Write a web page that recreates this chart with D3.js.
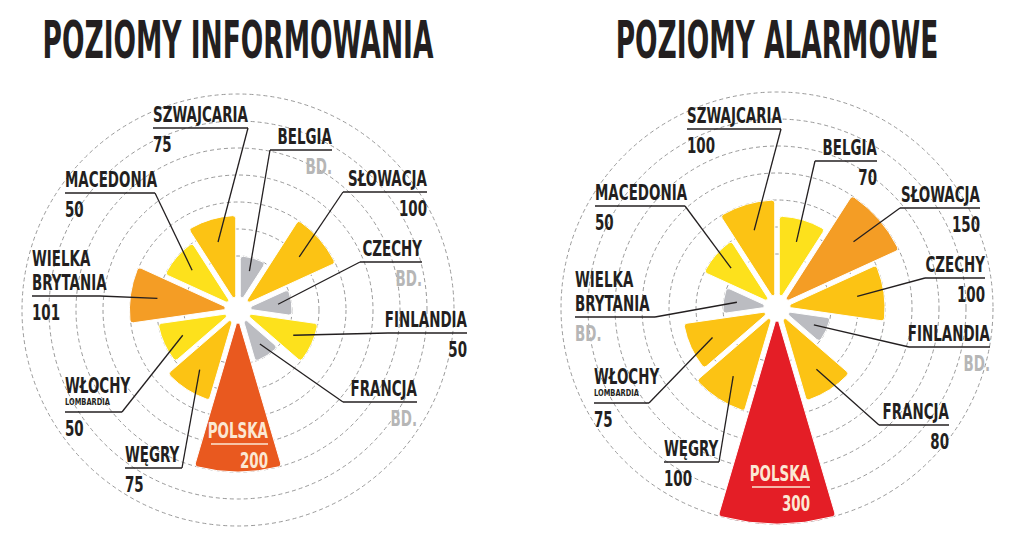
<!DOCTYPE html>
<html><head><meta charset="utf-8">
<script src="https://cdn.jsdelivr.net/npm/d3@7"></script>
<style>body{margin:0;background:#fff}svg{display:block}</style>
</head><body>
<script>
// ---------- data ----------
const categories = ["SZWAJCARIA","BELGIA","SŁOWACJA","CZECHY","FINLANDIA","FRANCJA","POLSKA","WĘGRY","WŁOCHY","WIELKA BRYTANIA","MACEDONIA"];
const subLabels  = ["","","","","","","","","LOMBARDIA","",""];
const infoValues  = [75, null, 100, null, 50, null, 200, 75, 50, 101, 50];
const alarmValues = [100, 70, 150, 100, null, 80, 300, 100, 75, null, 50];
const titles = ["POZIOMY INFORMOWANIA", "POZIOMY ALARMOWE"];
const ringValues = [0, 50, 100, 150, 200, 250, 300];
const noDataText = "BD.";

// ---------- layout (annotation placement, absolute px) ----------
const W = 1024, H = 553;
const centers = [[238, 310], [777, 308]];
// [textX, underlineY, leaderEndX, anchor]
const labelLayouts = [
  [[153,128,248,"start"],[332,150,270,"end"],[427,192,343,"end"],[422,262,360,"end"],
   [467,333,388,"end"],[417,402,343,"end"],[268,444,211,"inside"],[125,468,182,"start"],
   [65,412,122,"start"],[32,296,100,"start"],[65,193,155,"start"]],
  [[687,129,781,"start"],[877,161,815,"end"],[980,208,900,"end"],[985,278,925,"end"],
   [990,347,909,"end"],[949,425,879,"end"],[810,487,752,"inside"],[664,462,719,"start"],
   [594,403,649,"start"],[575,317,655,"start"],[595,206,685,"start"]]
];

const FONT = "'Liberation Sans Narrow','DejaVu Sans Condensed','Arial Narrow',sans-serif";
const INK = "#231f20";

const svg = d3.select("body").append("svg").attr("width", W).attr("height", H);

function measure(txt, size) {
  const t = svg.append("text").attr("font-family", FONT).attr("font-weight", "bold")
    .attr("font-size", size).text(txt);
  const w = t.node().getComputedTextLength(); t.remove(); return w;
}
const TITLE_SIZE = 51, LABEL_SIZE = 21, SUB_SIZE = 9, LINE_H = 24.5;
const titleSX = 391 / measure(titles[0], TITLE_SIZE);
const labelSX = 95 / measure(categories[0], LABEL_SIZE);
const subSX = 45 / measure(subLabels[8], SUB_SIZE);

function addText(g, txt, x, y, size, sx, anchor, fill) {
  return g.append("text")
    .attr("transform", `translate(${x},${y}) scale(${sx},1)`)
    .attr("font-family", FONT).attr("font-weight", "bold").attr("font-size", size)
    .attr("text-anchor", anchor).attr("fill", fill).text(txt);
}

// scales
const n = categories.length;
const angle = d3.scaleBand().domain(d3.range(n)).range([-2 * Math.PI / n, 2 * Math.PI - 2 * Math.PI / n]);
const r = d3.scaleLinear().domain([0, 300]).range([54, 216]);
const color = d3.scaleThreshold().domain([75, 101, 200, 300])
  .range(["#fde11c", "#fcc314", "#f49d25", "#e9591f", "#e41e26"]);
const GRAY = "#bbbcc1";

const arc = d3.arc().innerRadius(13).cornerRadius(3).padAngle(0.045).padRadius(100);

[infoValues, alarmValues].forEach((vals, ci) => {
  const [cx, cy] = centers[ci];
  const g = svg.append("g");

  addText(g, titles[ci], cx, 58, TITLE_SIZE, titleSX, "middle", INK);

  const c = g.append("g").attr("transform", `translate(${cx},${cy})`);
  c.selectAll("circle.ring").data(ringValues).join("circle")
    .attr("r", d => r(d)).attr("fill", "none")
    .attr("stroke", "#9a9a9a").attr("stroke-width", 1).attr("stroke-dasharray", "4,3");

  const data = vals.map((v, i) => ({ i, v, a0: angle(i), a1: angle(i) + angle.bandwidth() }));
  c.selectAll("path.sector").data(data).join("path")
    .attr("d", d => arc({ startAngle: d.a0, endAngle: d.a1, outerRadius: r(d.v == null ? 0 : d.v) }))
    .attr("fill", d => d.v == null ? GRAY : color(d.v))
    .attr("stroke", "#fff").attr("stroke-width", 1);

  data.forEach(d => {
    const [tx, ty, ux, anchor] = labelLayouts[ci][d.i];
    const inside = anchor === "inside";
    const ink = inside ? "#fbe8d4" : INK;
    const an = inside ? "end" : anchor;
    const lines = categories[d.i].split(" ");
    const sub = subLabels[d.i];
    const nameBase = ty - (sub ? 19 : 6);
    lines.forEach((ln, k) =>
      addText(g, ln, tx, nameBase - (lines.length - 1 - k) * LINE_H, LABEL_SIZE, labelSX, an, ink));
    if (sub) addText(g, sub, tx, ty - 7, SUB_SIZE, subSX, an, ink);
    const valTxt = d.v == null ? noDataText : String(d.v);
    addText(g, valTxt, tx, ty + 24, LABEL_SIZE, labelSX, an, d.v == null ? "#b6b6b6" : ink);
    g.append("line").attr("x1", tx).attr("x2", ux).attr("y1", ty).attr("y2", ty)
      .attr("stroke", ink).attr("stroke-width", 1.6);
    if (!inside) {
      const mid = (d.a0 + d.a1) / 2;
      const rr = 0.75 * r(d.v == null ? 0 : d.v);
      g.append("line").attr("x1", ux).attr("y1", ty)
        .attr("x2", cx + rr * Math.sin(mid)).attr("y2", cy - rr * Math.cos(mid))
        .attr("stroke", INK).attr("stroke-width", 1.3);
    }
  });
});
</script>
</body></html>
